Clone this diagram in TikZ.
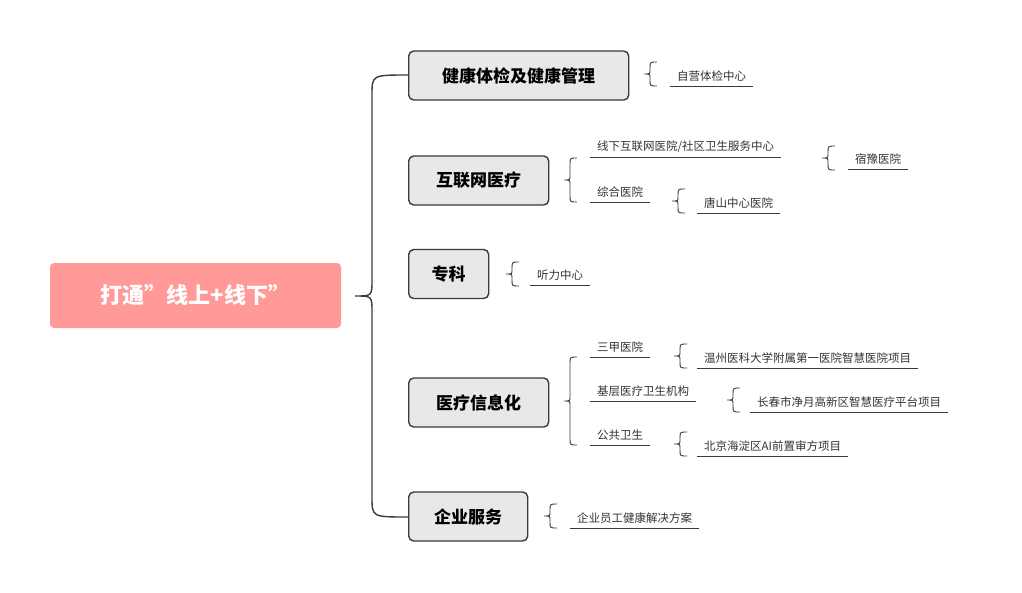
\documentclass[tikz,border=0pt]{standalone}
\usepackage{fontspec}
\setmainfont{Noto Sans CJK SC}
\begin{document}
\begin{tikzpicture}[x=1pt,y=-1pt,
  root/.style={rounded corners=4pt,fill=rootpink,text=white,font=\fontsize{22}{26}\selectfont\bfseries,minimum width=291pt,minimum height=65pt},
  branch/.style={rounded corners=5pt,fill=boxgray,draw=linegray,line width=1.4pt,font=\fontsize{17}{20}\selectfont\bfseries,minimum height=49pt,inner xsep=8pt,anchor=west},
  leaf/.style={font=\fontsize{11.5}{14}\selectfont,text=textgray,inner xsep=7pt,inner ysep=4pt,anchor=south west},
  uline/.style={draw=linegray,line width=0.8pt},
  brc/.style={draw=linegray,line width=0.9pt}]
\definecolor{rootpink}{HTML}{FF9A98}
\definecolor{boxgray}{HTML}{E8E8E8}
\definecolor{linegray}{HTML}{3A3A3A}
\definecolor{textgray}{HTML}{333333}
\newcommand\mybrace[3]{% x, y1, y2
  \pgfmathsetmacro\ym{(#2+#3)/2}
  \draw[brc] (#1+7,#2) .. controls (#1,#2) .. (#1,#2+6) -- (#1,\ym-4) .. controls (#1,\ym) .. (#1-6,\ym) .. controls (#1,\ym) .. (#1,\ym+4) -- (#1,#3-6) .. controls (#1,#3) .. (#1+7,#3);}
\useasboundingbox (0,0) rectangle (1022,592);
\node[root] (r) at (195.5,295.5) {打通"线上+线下"};
% big brace
\draw[draw=linegray,line width=1.4pt] (408,75) .. controls (372,75) .. (372,95) -- (372,280) .. controls (372,296) .. (355,296) .. controls (372,296) .. (372,312) -- (372,497) .. controls (372,517) .. (408,517);
\node[branch,minimum width=220pt] (b1) at (408,75.5) {健康体检及健康管理};
\node[branch,minimum width=140pt] (b2) at (408,180.5) {互联网医疗};
\node[branch,minimum width=80pt] (b3) at (408,274) {专科};
\node[branch,minimum width=140pt] (b4) at (408,402.5) {医疗信息化};
\node[branch,minimum width=119pt] (b5) at (408,516.5) {企业服务};
% leaves
\newcommand\leafat[4]{\node[leaf] (#1) at (#2,#3) {#4}; \draw[uline] (#1.south west) -- (#1.south east);}
\mybrace{650}{62}{86}
\leafat{l1}{670}{86}{自营体检中心}
\mybrace{570}{158}{202}
\leafat{l2a}{590}{157}{线下互联网医院/社区卫生服务中心}
\leafat{l2b}{590}{202}{综合医院}
\mybrace{828}{146}{170}
\leafat{l2c}{848}{169}{宿豫医院}
\mybrace{678}{189}{213}
\leafat{l2d}{697}{213}{唐山中心医院}
\mybrace{512}{262}{286}
\leafat{l3}{530}{285}{听力中心}
\mybrace{570}{357}{445}
\leafat{l4a}{590}{357}{三甲医院}
\leafat{l4b}{590}{401}{基层医疗卫生机构}
\leafat{l4c}{590}{445}{公共卫生}
\mybrace{680}{344}{368}
\leafat{l4d}{697}{368}{温州医科大学附属第一医院智慧医院项目}
\mybrace{733}{388}{412}
\leafat{l4e}{750}{412}{长春市净月高新区智慧医疗平台项目}
\mybrace{680}{432}{456}
\leafat{l4f}{697}{456}{北京海淀区AI前置审方项目}
\mybrace{550}{504}{528}
\leafat{l5}{570}{528}{企业员工健康解决方案}
\end{tikzpicture}
\end{document}
